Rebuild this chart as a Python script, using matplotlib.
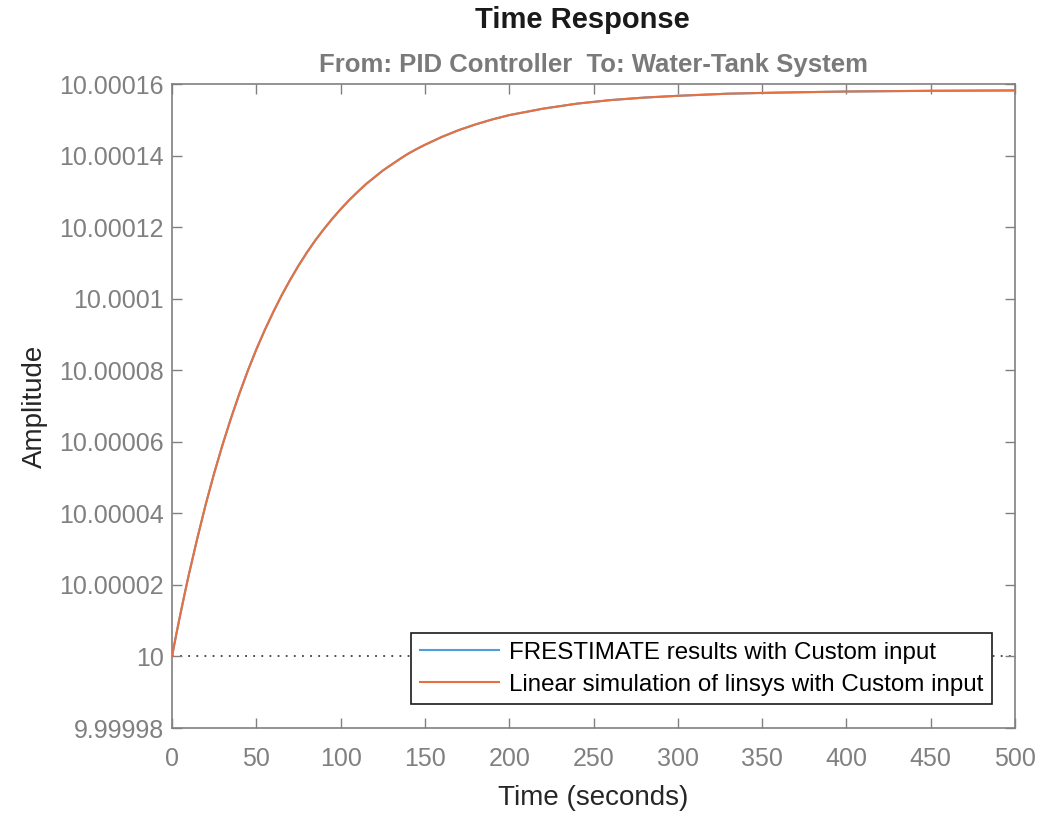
import matplotlib
matplotlib.use("Agg")
import matplotlib.pyplot as plt

# Data (amplitude offsets in units of 1e-5 above 10)
time_s = [0, 2.5, 5, 7.5, 10, 15, 20, 25, 30, 35, 40, 45, 50, 55, 60, 65, 70, 75, 80,
          85, 90, 95, 100, 105, 110, 115, 120, 125, 130, 135, 140, 145, 150,
          160, 170, 180, 190, 200, 220, 240, 260, 280, 300, 330, 360, 400, 450, 500]
offset_e5 = [0.0, 0.61, 1.19, 1.75, 2.29, 3.30, 4.25, 5.12, 5.92, 6.66, 7.35, 7.99,
             8.58, 9.12, 9.62, 10.09, 10.52, 10.92, 11.29, 11.63, 11.94, 12.23, 12.50,
             12.75, 12.98, 13.20, 13.39, 13.58, 13.74, 13.90, 14.05, 14.18, 14.30,
             14.52, 14.71, 14.87, 15.01, 15.13, 15.31, 15.45, 15.55, 15.62, 15.67,
             15.73, 15.76, 15.79, 15.81, 15.82]
base_level = 10.0
frestimate_amp = [base_level + v * 1e-5 for v in offset_e5]
linsim_amp = [base_level + v * 1e-5 for v in offset_e5]

series_labels = ["FRESTIMATE results with Custom input",
                 "Linear simulation of linsys with Custom input"]
x_ticks = [0, 50, 100, 150, 200, 250, 300, 350, 400, 450, 500]
y_ticks = [9.99998, 10.0, 10.00002, 10.00004, 10.00006, 10.00008, 10.0001,
           10.00012, 10.00014, 10.00016]
y_tick_labels = ["9.99998", "10", "10.00002", "10.00004", "10.00006", "10.00008",
                 "10.0001", "10.00012", "10.00014", "10.00016"]

plt.rcParams['font.family'] = ['Liberation Sans', 'DejaVu Sans']

fig = plt.figure(figsize=(10.39, 8.13), dpi=100)
ax = fig.add_axes([172 / 1039, 1 - 728 / 813, (1015 - 172) / 1039, (728 - 84) / 813])

gray = '#808080'
ax.axhline(base_level, color='#404040', linestyle=(0, (1, 3.5)), linewidth=1.3, zorder=1)
ax.plot(time_s, frestimate_amp, color='#4DA0DD', linewidth=1.5, label=series_labels[0], zorder=2)
ax.plot(time_s, linsim_amp, color='#E8703F', linewidth=1.5, label=series_labels[1], zorder=3)

ax.set_xlim(0, 500)
ax.set_ylim(9.99998, 10.00016)
ax.set_xticks(x_ticks)
ax.set_xticklabels([str(t) for t in x_ticks])
ax.set_yticks(y_ticks)
ax.set_yticklabels(y_tick_labels)

for sp in ax.spines.values():
    sp.set_color(gray)
    sp.set_linewidth(1.2)
ax.tick_params(axis='both', which='both', direction='in', length=7, width=1.0,
               colors=gray, labelsize=18, top=True, right=True, pad=6)
ax.tick_params(axis='x', pad=14)
for lab in ax.get_xticklabels() + ax.get_yticklabels():
    lab.set_color(gray)

ax.set_xlabel("Time (seconds)", fontsize=20, color='#262626', labelpad=10)
ax.set_ylabel("Amplitude", fontsize=20, color='#262626', labelpad=8)

fig.text(0.5605, 1 - 20 / 813, "Time Response", ha='center', va='center',
         fontsize=21, fontweight='bold', color='#1a1a1a')
fig.text(593.5 / 1039, 1 - 65 / 813, "From: PID Controller  To: Water-Tank System",
         ha='center', va='center', fontsize=18.5, fontweight='bold', color='#7a7a7a')

leg = ax.legend(loc='lower right', bbox_to_anchor=(992 / 1039, 1 - 704 / 813),
                bbox_transform=fig.transFigure, fontsize=17.4, frameon=True,
                fancybox=False, edgecolor='#1a1a1a', framealpha=1,
                handlelength=3.3, handletextpad=0.4, borderpad=0.35, labelspacing=0.4,
                borderaxespad=0)
leg.get_frame().set_linewidth(1.2)

fig.savefig("out.png", dpi=100)
